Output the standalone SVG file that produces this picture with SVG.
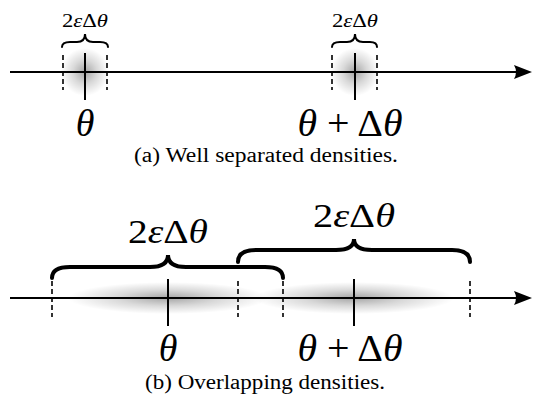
<svg xmlns="http://www.w3.org/2000/svg" width="533" height="397" viewBox="0 0 533 397">
<style>
.axis{stroke:#000;stroke-width:2;fill:none}
.tick{stroke:#000;stroke-width:2}
.dash{stroke:#000;stroke-width:1.6;stroke-dasharray:5,3}
.brace-s{stroke:#000;stroke-width:2;fill:none;stroke-linecap:round}
.brace-l{stroke:#000;stroke-width:4;fill:none;stroke-linecap:round}
text{font-family:"Liberation Serif","DejaVu Serif","Times New Roman",serif;fill:#000}
.it{font-style:italic}
.cap{font-size:20px}
</style>
<defs>
<radialGradient id="blob" cx="0.5" cy="0.5" r="0.5">
<stop offset="0" stop-color="#000" stop-opacity="0.35"/>
<stop offset="0.5" stop-color="#000" stop-opacity="0.15"/>
<stop offset="1" stop-color="#000" stop-opacity="0"/>
</radialGradient>
</defs>
<rect width="533" height="397" fill="#fff"/>
<g id="densities">
<ellipse cx="85" cy="72" rx="24" ry="24" fill="url(#blob)"/>
<ellipse cx="355" cy="72" rx="24" ry="24" fill="url(#blob)"/>
<ellipse cx="168" cy="298" rx="100" ry="16" fill="url(#blob)"/>
<ellipse cx="354" cy="298" rx="100" ry="16" fill="url(#blob)"/>
</g>
<g id="connectors">
<line class="axis" x1="10" y1="72" x2="520" y2="72"/>
<path d="M532,72 L514,65 Q518,72 514,79 Z" fill="#000"/>
<line class="axis" x1="10" y1="298" x2="520" y2="298"/>
<path d="M532,298 L514,291 Q518,298 514,305 Z" fill="#000"/>
</g>
<g id="node-a-theta">
<line class="tick" x1="85" y1="53" x2="85" y2="100"/>
<line class="dash" x1="63" y1="55" x2="63" y2="90"/>
<line class="dash" x1="107" y1="55" x2="107" y2="90"/>
<path class="brace-s" d="M62,47 Q62,42 70,42 L77,42 Q85,42 85,34 Q85,42 93,42 L100,42 Q108,42 108,47"/>
<text x="85" y="27" font-size="19" text-anchor="middle" textLength="46" lengthAdjust="spacingAndGlyphs">2<tspan class="it">ε</tspan>Δ<tspan class="it">θ</tspan></text>
<text class="it" x="85" y="136" font-size="38" text-anchor="middle">θ</text>
</g>
<g id="node-a-theta-delta">
<line class="tick" x1="355" y1="53" x2="355" y2="100"/>
<line class="dash" x1="332" y1="55" x2="332" y2="90"/>
<line class="dash" x1="377" y1="55" x2="377" y2="90"/>
<path class="brace-s" d="M332,47 Q332,42 340,42 L347,42 Q355,42 355,34 Q355,42 363,42 L370,42 Q377,42 377,47"/>
<text x="355" y="27" font-size="19" text-anchor="middle" textLength="46" lengthAdjust="spacingAndGlyphs">2<tspan class="it">ε</tspan>Δ<tspan class="it">θ</tspan></text>
<text x="350" y="136" font-size="38" text-anchor="middle" textLength="105" lengthAdjust="spacingAndGlyphs"><tspan class="it">θ</tspan> + Δ<tspan class="it">θ</tspan></text>
</g>
<text class="cap" x="266" y="162" text-anchor="middle" textLength="264" lengthAdjust="spacingAndGlyphs">(a) Well separated densities.</text>
<g id="node-b-theta">
<line class="tick" x1="168" y1="279" x2="168" y2="326"/>
<line class="dash" x1="52" y1="281" x2="52" y2="317"/>
<line class="dash" x1="283" y1="281" x2="283" y2="317"/>
<path class="brace-l" d="M52,278 Q52,267 70,267 L150,267 Q168,267 168,255 Q168,267 186,267 L265,267 Q283,267 283,278"/>
<text x="168" y="243" font-size="33" text-anchor="middle" textLength="80" lengthAdjust="spacingAndGlyphs">2<tspan class="it">ε</tspan>Δ<tspan class="it">θ</tspan></text>
<text class="it" x="168" y="361" font-size="38" text-anchor="middle">θ</text>
</g>
<g id="node-b-theta-delta">
<line class="tick" x1="354" y1="279" x2="354" y2="326"/>
<line class="dash" x1="238" y1="281" x2="238" y2="317"/>
<line class="dash" x1="470" y1="281" x2="470" y2="317"/>
<path class="brace-l" d="M238,262 Q238,250 256,250 L336,250 Q354,250 354,239 Q354,250 372,250 L452,250 Q470,250 470,262"/>
<text x="354" y="227" font-size="33" text-anchor="middle" textLength="82" lengthAdjust="spacingAndGlyphs">2<tspan class="it">ε</tspan>Δ<tspan class="it">θ</tspan></text>
<text x="350" y="361" font-size="38" text-anchor="middle" textLength="105" lengthAdjust="spacingAndGlyphs"><tspan class="it">θ</tspan> + Δ<tspan class="it">θ</tspan></text>
</g>
<text class="cap" x="265" y="389" text-anchor="middle" textLength="240" lengthAdjust="spacingAndGlyphs">(b) Overlapping densities.</text>
</svg>
